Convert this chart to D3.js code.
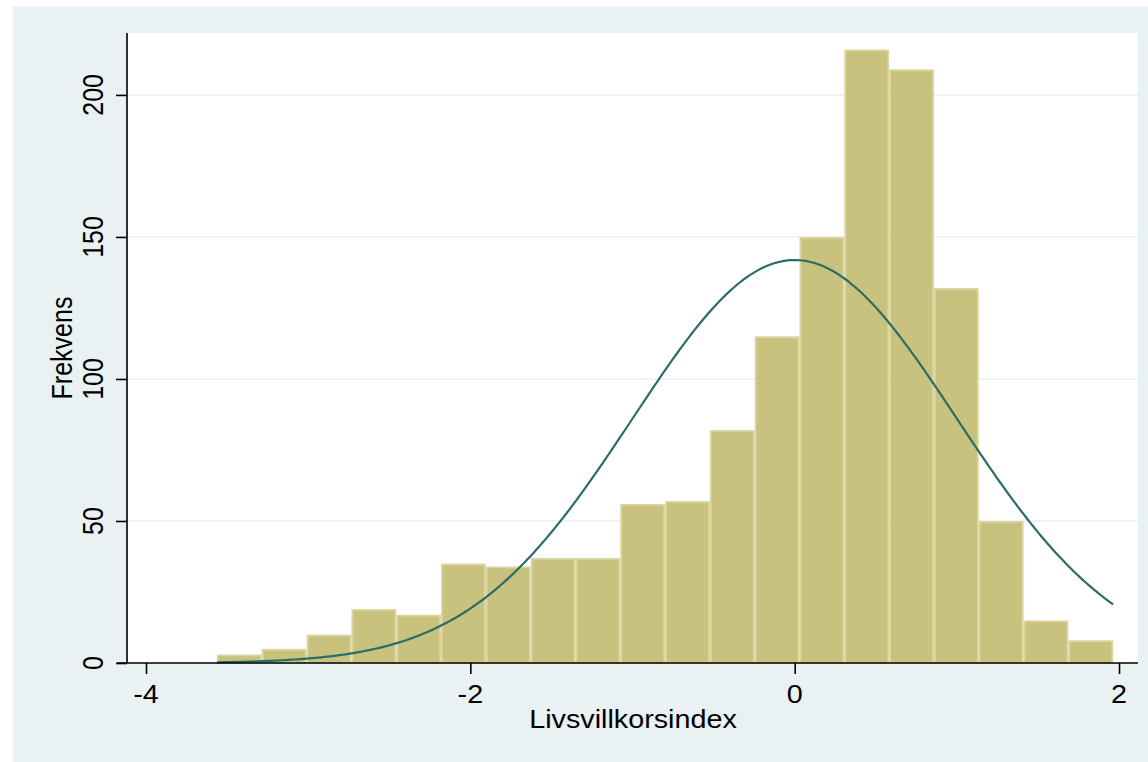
<!DOCTYPE html>
<html>
<head>
<meta charset="utf-8">
<script src="https://cdn.jsdelivr.net/npm/d3@7"></script>
<style>
  html, body { margin: 0; padding: 0; background: #ffffff; }
  svg { display: block; }
  text { font-family: "Liberation Sans", Arial, Helvetica, sans-serif; fill: #000; }
</style>
</head>
<body>
<svg id="chart" width="1148" height="762"></svg>
<script>
// ---- data ----
const binStart = -3.562;
const binWidth = 0.2763;
const counts = [3, 5, 10, 19, 17, 35, 34, 37, 37, 56, 57, 82, 115, 150, 216, 209, 132, 50, 15, 8];
const xTicks = [-4, -2, 0, 2];
const yTicks = [0, 50, 100, 150, 200];
const gridTicks = [50, 100, 150, 200];
const normalMean = 0;
const normalSd = 1;
const xTitle = "Livsvillkorsindex";
const yTitle = "Frekvens";

// ---- layout ----
const W = 1148, H = 762;
const plot = { left: 128, right: 1138, top: 33, bottom: 663 };
const textScaleX = 1.15;
const fontSize = 25;

const svg = d3.select("#chart");

svg.append("rect").attr("x", 0).attr("y", 0).attr("width", W).attr("height", H).attr("fill", "#ffffff");
svg.append("rect").attr("x", 13).attr("y", 6).attr("width", W - 13).attr("height", H - 6).attr("fill", "#e9f1f3");
svg.append("rect").attr("x", plot.left).attr("y", plot.top)
   .attr("width", plot.right - plot.left).attr("height", plot.bottom - plot.top).attr("fill", "#ffffff");

const x = d3.scaleLinear().domain([-4.111, 2.117]).range([plot.left, plot.right]);
const y = d3.scaleLinear().domain([0, 221.8]).range([plot.bottom, plot.top]);

// gridlines
svg.append("g").selectAll("line").data(gridTicks).join("line")
  .attr("x1", plot.left).attr("x2", plot.right)
  .attr("y1", d => y(d)).attr("y2", d => y(d))
  .attr("stroke", "#e9f1f3").attr("stroke-width", 1.6);

// bars
const bins = counts.map((c, i) => ({ x0: binStart + i * binWidth, x1: binStart + (i + 1) * binWidth, c }));
svg.append("g").selectAll("rect").data(bins).join("rect")
  .attr("x", d => x(d.x0) + 0.9)
  .attr("width", d => x(d.x1) - x(d.x0) - 1.8)
  .attr("y", d => y(d.c) + 0.9)
  .attr("height", d => Math.max(0, y(0) - y(d.c) - 0.9))
  .attr("fill", "#c9c27e")
  .attr("stroke", "#dbd5a2")
  .attr("stroke-width", 1.8);

// normal density overlay
const N = d3.sum(counts);
const xMin = binStart, xMax = binStart + counts.length * binWidth;
const curvePts = d3.range(0, 301).map(i => {
  const xv = xMin + (xMax - xMin) * i / 300;
  const z = (xv - normalMean) / normalSd;
  return [xv, N * binWidth * Math.exp(-0.5 * z * z) / (normalSd * Math.sqrt(2 * Math.PI))];
});
svg.append("path").datum(curvePts)
  .attr("d", d3.line().x(d => x(d[0])).y(d => y(d[1])).curve(d3.curveLinear))
  .attr("fill", "none").attr("stroke", "#2c6c68").attr("stroke-width", 2.2);

// x axis
const xAxis = svg.append("g").attr("transform", `translate(0,${plot.bottom})`)
  .call(d3.axisBottom(x).tickValues(xTicks).tickSize(11).tickFormat(() => ""));
xAxis.select(".domain").remove();
xAxis.append("line").attr("x1", plot.left - 11).attr("x2", plot.right).attr("y1", 0).attr("y2", 0)
  .attr("stroke", "#000").attr("stroke-width", 1.6);
xAxis.selectAll(".tick line").attr("stroke", "#000").attr("stroke-width", 1.6);

svg.append("g").selectAll("g").data(xTicks).join("g")
  .attr("transform", d => `translate(${x(d)},703) scale(${textScaleX},1)`)
  .append("text").attr("text-anchor", "middle").attr("font-size", fontSize)
  .text(d => d3.format("d")(d).replace("−", "-"));

// y axis
const yAxis = svg.append("g").attr("transform", `translate(${plot.left - 1},0)`)
  .call(d3.axisLeft(y).tickValues(yTicks).tickSize(11).tickFormat(() => ""));
yAxis.select(".domain").remove();
yAxis.append("line").attr("x1", 0).attr("x2", 0).attr("y1", plot.top).attr("y2", plot.bottom)
  .attr("stroke", "#000").attr("stroke-width", 1.6);
yAxis.selectAll(".tick line").attr("stroke", "#000").attr("stroke-width", 1.6);

svg.append("g").selectAll("g").data(yTicks).join("g")
  .attr("transform", d => `translate(103,${y(d)}) scale(${textScaleX},1) rotate(-90)`)
  .append("text").attr("text-anchor", "middle").attr("font-size", fontSize)
  .text(d => d);

// axis titles
svg.append("g").attr("transform", `translate(${(plot.left + plot.right) / 2},728) scale(${textScaleX},1)`)
  .append("text").attr("text-anchor", "middle").attr("font-size", fontSize).text(xTitle);

svg.append("g").attr("transform", `translate(72,${(plot.top + plot.bottom) / 2}) scale(${textScaleX},1) rotate(-90)`)
  .append("text").attr("text-anchor", "middle").attr("font-size", fontSize).text(yTitle);
</script>
</body>
</html>
